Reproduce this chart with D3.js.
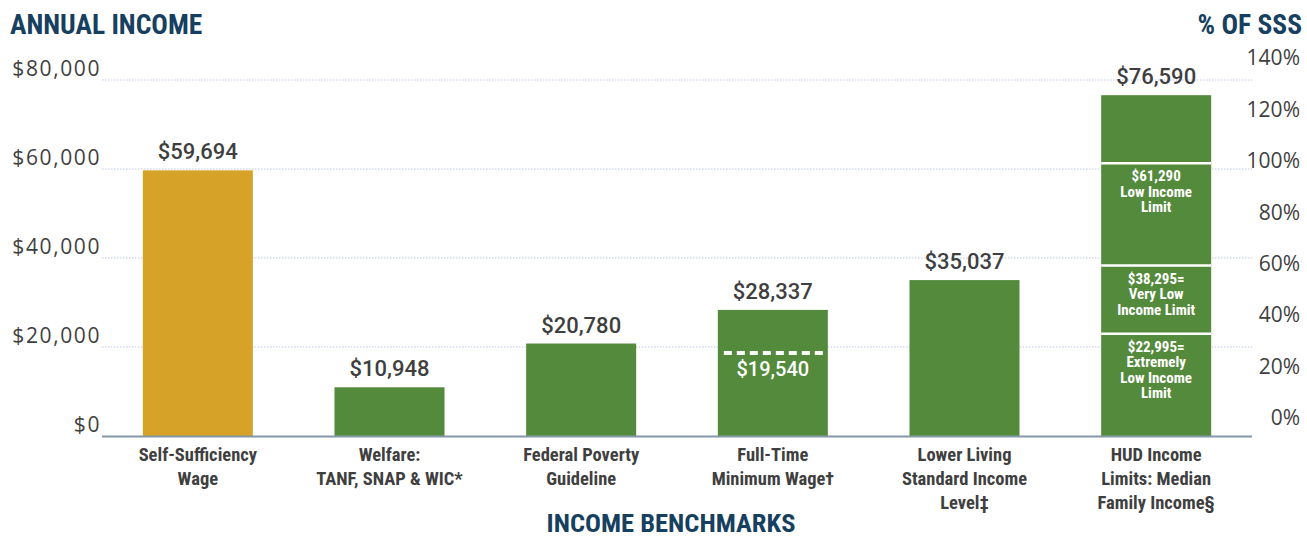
<!DOCTYPE html>
<html>
<head>
<meta charset="utf-8">
<script src="https://cdn.jsdelivr.net/npm/d3@7"></script>
<style>
  body { margin: 0; background: #fff; }
  .cond { font-family: "Liberation Sans Narrow", "Roboto", sans-serif; font-stretch: condensed; }
  .num { font-family: "Roboto", "Liberation Sans", sans-serif; }
</style>
</head>
<body>
<svg id="chart" width="1307" height="540"></svg>
<script>
// benchmark categories (each label split in lines)
const categories = [
  ['Self-Sufficiency', 'Wage'],
  ['Welfare:', 'TANF, SNAP & WIC*'],
  ['Federal Poverty', 'Guideline'],
  ['Full-Time', 'Minimum Wage\u2020'],
  ['Lower Living', 'Standard Income', 'Level\u2021'],
  ['HUD Income', 'Limits: Median', 'Family Income\u00a7']
];
const values = [59694, 10948, 20780, 28337, 35037, 76590];
const barColors = ['#d6a227', '#548a3c', '#548a3c', '#548a3c', '#548a3c', '#548a3c'];
const leftTicks = [0, 20000, 40000, 60000, 80000];
const rightTicks = [0, 0.2, 0.4, 0.6, 0.8, 1.0, 1.2, 1.4];

// minimum wage half-time marker
const minWageLine = 19540;

// HUD sub-limits
const hudLimits = [22995, 38295, 61290];
const hudLabels = [
  ['$22,995=', 'Extremely', 'Low Income', 'Limit'],
  ['$38,295=', 'Very Low', 'Income Limit'],
  ['$61,290', 'Low Income', 'Limit']
];

const svg = d3.select('#chart');
const plotLeft = 102, plotRight = 1252, plotTop = 80, plotBottom = 436;

const x = d3.scaleBand()
  .domain(d3.range(categories.length))
  .range([plotLeft, plotRight])
  .paddingInner(0.426)
  .paddingOuter(0.213);

const y = d3.scaleLinear().domain([0, 80000]).range([plotBottom, plotTop]);
const yPct = d3.scaleLinear().domain([0, 1.4]).range([418, 58]);

const fmt = d3.format('$,.0f');
const navy = '#173f5f';
const textGray = '#3f3f3f';

// gridlines
svg.append('g')
  .selectAll('line')
  .data(leftTicks.filter(d => d > 0))
  .join('line')
  .attr('x1', plotLeft).attr('x2', plotRight)
  .attr('y1', d => y(d)).attr('y2', d => y(d))
  .attr('stroke', '#bcc6e6')
  .attr('stroke-width', 1)
  .attr('stroke-dasharray', '1.5,1.5');

// left axis
const yAxis = d3.axisLeft(y).tickValues(leftTicks).tickSize(0).tickPadding(0)
  .tickFormat(fmt);
const gy = svg.append('g')
  .attr('transform', 'translate(' + (plotLeft - 1) + ',0)')
  .call(yAxis);
gy.select('.domain').remove();
gy.selectAll('text')
  .attr('font-family', '"Open Sans", sans-serif')
  .attr('font-size', 21)
  .attr('letter-spacing', 1.6)
  .attr('fill', textGray)
  .attr('dy', '-0.2em');

// right axis
const yRight = d3.axisRight(yPct).tickValues(rightTicks).tickSize(0).tickPadding(0)
  .tickFormat(d3.format('.0%'));
const gr = svg.append('g')
  .attr('transform', 'translate(1300,0)')
  .call(yRight);
gr.select('.domain').remove();
gr.selectAll('text')
  .attr('text-anchor', 'end')
  .attr('font-family', '"Open Sans", sans-serif')
  .attr('font-size', 21)
  .attr('fill', textGray);

// bars
svg.append('g')
  .selectAll('rect')
  .data(values)
  .join('rect')
  .attr('x', (d, i) => x(i))
  .attr('y', d => y(d))
  .attr('width', x.bandwidth())
  .attr('height', d => y(0) - y(d))
  .attr('fill', (d, i) => barColors[i]);

// baseline
svg.append('line')
  .attr('x1', plotLeft).attr('x2', plotRight)
  .attr('y1', y(0) + 0.5).attr('y2', y(0) + 0.5)
  .attr('stroke', '#8497a9')
  .attr('stroke-width', 2);

// value labels
svg.append('g')
  .selectAll('text')
  .data(values)
  .join('text')
  .attr('class', 'num')
  .attr('x', (d, i) => x(i) + x.bandwidth() / 2)
  .attr('y', d => y(d) - 11)
  .attr('text-anchor', 'middle')
  .attr('font-size', 22)
  .attr('font-weight', 500)
  .attr('fill', textGray)
  .text(d => fmt(d));

// minimum wage dashed line
const mw = 3;
svg.append('line')
  .attr('x1', x(mw) + 6).attr('x2', x(mw) + x.bandwidth())
  .attr('y1', y(minWageLine) + 4).attr('y2', y(minWageLine) + 4)
  .attr('stroke', '#fff')
  .attr('stroke-width', 4)
  .attr('stroke-dasharray', '8,5');
svg.append('text')
  .attr('class', 'num')
  .attr('x', x(mw) + x.bandwidth() / 2)
  .attr('y', y(minWageLine) + 27)
  .attr('text-anchor', 'middle')
  .attr('font-size', 20)
  .attr('font-weight', 500)
  .attr('fill', '#fff')
  .text(fmt(minWageLine));

// HUD separators and labels
const hud = 5;
svg.append('g')
  .selectAll('line')
  .data(hudLimits)
  .join('line')
  .attr('x1', x(hud)).attr('x2', x(hud) + x.bandwidth())
  .attr('y1', d => y(d)).attr('y2', d => y(d))
  .attr('stroke', '#fff')
  .attr('stroke-width', 2.5);

hudLabels.forEach((lines, i) => {
  const t = svg.append('text')
    .attr('class', 'cond')
    .attr('x', x(hud) + x.bandwidth() / 2)
    .attr('y', y(hudLimits[i]) + 18)
    .attr('text-anchor', 'middle')
    .attr('font-size', 15)
    .attr('font-weight', 'bold')
    .attr('fill', '#fff');
  t.selectAll('tspan')
    .data(lines)
    .join('tspan')
    .attr('x', x(hud) + x.bandwidth() / 2)
    .attr('dy', (d, j) => j === 0 ? 0 : 15.5)
    .text(d => d);
});

// category labels
const cat = svg.append('g');
categories.forEach((lines, i) => {
  const t = cat.append('text')
    .attr('class', 'cond')
    .attr('x', x(i) + x.bandwidth() / 2)
    .attr('y', 461)
    .attr('text-anchor', 'middle')
    .attr('font-size', 18.5)
    .attr('font-weight', 'bold')
    .attr('fill', textGray);
  t.selectAll('tspan')
    .data(lines)
    .join('tspan')
    .attr('x', x(i) + x.bandwidth() / 2)
    .attr('dy', (d, j) => j === 0 ? 0 : 24)
    .text(d => d);
});

// titles
svg.append('text')
  .attr('class', 'cond')
  .attr('x', 10).attr('y', 34)
  .attr('font-size', 27.5)
  .attr('font-weight', 'bold')
  .attr('fill', navy)
  .text('ANNUAL INCOME');

svg.append('text')
  .attr('class', 'cond')
  .attr('x', 1302).attr('y', 34)
  .attr('text-anchor', 'end')
  .attr('font-size', 27.5)
  .attr('font-weight', 'bold')
  .attr('fill', navy)
  .text('% OF SSS');

svg.append('text')
  .attr('class', 'cond')
  .attr('x', 671).attr('y', 532)
  .attr('text-anchor', 'middle')
  .attr('font-size', 26.5)
  .attr('font-weight', 'bold')
  .attr('fill', navy)
  .text('INCOME BENCHMARKS');
</script>
</body>
</html>
